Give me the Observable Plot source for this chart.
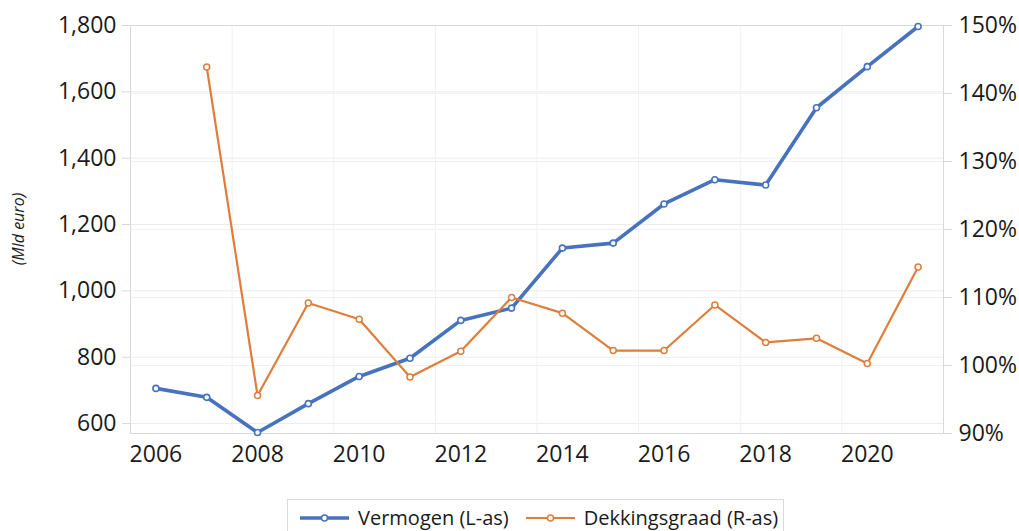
<!DOCTYPE html>
<html>
<head>
<meta charset="utf-8">
<script src="https://cdn.jsdelivr.net/npm/d3@7"></script>
<script src="https://cdn.jsdelivr.net/npm/@observablehq/plot@0.6"></script>
<style>
  html, body { margin: 0; padding: 0; background: #fff; }
  body { width: 1019px; height: 531px; position: relative; overflow: hidden; font-family: "Open Sans", sans-serif; }
  #chart { position: absolute; left: 0; top: 0; }
  #ytitle { position: absolute; left: 18px; top: 229px; transform: translate(-50%, -50%) rotate(-90deg);
            font-size: 16px; font-style: italic; color: #1a1a1a; white-space: nowrap; line-height: 1; }
  #legend { position: absolute; left: 287px; top: 499px; width: 497px; height: 36px; border: 1px solid #d9d9d9; border-bottom: none; box-sizing: border-box;
            display: flex; align-items: center; font-size: 20px; line-height: 1; color: #1a1a1a; }
  .item { display: flex; align-items: center; }
  .item svg { margin-right: 9px; }
</style>
</head>
<body>
<div id="chart"></div>
<div id="ytitle"></div>
<div id="legend"></div>
<script>
// ---- data ----
const years = [2006, 2007, 2008, 2009, 2010, 2011, 2012, 2013, 2014, 2015, 2016, 2017, 2018, 2019, 2020, 2021];
const vermogen = [706, 679, 573, 660, 742, 797, 911, 948, 1129, 1144, 1262, 1335, 1319, 1552, 1676, 1797];
const dekYears = [2007, 2008, 2009, 2010, 2011, 2012, 2013, 2014, 2015, 2016, 2017, 2018, 2019, 2020, 2021];
const dekkingsgraad = [143.9, 95.6, 109.2, 106.8, 98.3, 102.1, 110.0, 107.7, 102.2, 102.2, 108.9, 103.4, 104.0, 100.3, 114.5];
const leftTicks = [600, 800, 1000, 1200, 1400, 1600, 1800];
const rightTicks = [90, 100, 110, 120, 130, 140, 150];
const xTicks = [2006, 2008, 2010, 2012, 2014, 2016, 2018, 2020];
const gridX = [2007.5, 2009.5, 2011.5, 2013.5, 2015.5, 2017.5, 2019.5];
const seriesNames = ["Vermogen (L-as)", "Dekkingsgraad (R-as)"];
const yTitle = "(Mld euro)";

const blue = "#4672BF";
const orange = "#DE7E3A";
const textColor = "#1a1a1a";

// left axis domain and mapping of right (percent) axis onto it
const L0 = 570, L1 = 1800, R0 = 90, R1 = 150;
const toLeft = r => L0 + (r - R0) * (L1 - L0) / (R1 - R0);
const fromLeft = v => R0 + (v - L0) * (R1 - R0) / (L1 - L0);

const vData = years.map((y, i) => ({year: y, value: vermogen[i]}));
const dData = dekYears.map((y, i) => ({year: y, value: toLeft(dekkingsgraad[i])}));

const chart = Plot.plot({
  width: 1019,
  height: 490,
  marginLeft: 130,
  marginRight: 76,
  marginTop: 25,
  marginBottom: 57,
  style: {fontFamily: "'Open Sans', sans-serif", background: "#fff", overflow: "visible"},
  x: {domain: [2005.5, 2021.5]},
  y: {domain: [L0, L1]},
  marks: [
    Plot.ruleY(leftTicks, {stroke: "#ececec"}),
    Plot.ruleY(rightTicks.map(toLeft), {stroke: "#f1f1f1"}),
    Plot.ruleX(gridX, {stroke: "#f1f1f1"}),
    Plot.frame({stroke: "#d9d9d9"}),
    Plot.axisY({ticks: leftTicks, tickFormat: d3.format(","), tickSize: 8, tickPadding: 6,
                stroke: "#d9d9d9", fill: textColor, fontSize: 23, label: null}),
    Plot.axisY({anchor: "right", ticks: rightTicks.map(toLeft), tickFormat: v => Math.round(fromLeft(v)) + "%",
                tickSize: 8, tickPadding: 7, stroke: "#d9d9d9", fill: textColor, fontSize: 23, label: null}),
    Plot.axisX({ticks: xTicks, tickFormat: d => String(d), tickSize: 0, tickPadding: 12,
                fill: textColor, fontSize: 23, label: null}),
    Plot.line(vData, {x: "year", y: "value", stroke: blue, strokeWidth: 3.6}),
    Plot.dot(vData, {x: "year", y: "value", r: 3, fill: "white", stroke: blue, strokeWidth: 1.6}),
    Plot.line(dData, {x: "year", y: "value", stroke: orange, strokeWidth: 2.2}),
    Plot.dot(dData, {x: "year", y: "value", r: 3, fill: "white", stroke: orange, strokeWidth: 1.5})
  ]
});
document.getElementById("chart").appendChild(chart);
document.getElementById("ytitle").textContent = yTitle;

// legend
const legend = document.getElementById("legend");
const legendItems = [
  {name: seriesNames[0], color: blue, w: 3.6},
  {name: seriesNames[1], color: orange, w: 2.2}
];
legendItems.forEach((it, i) => {
  const div = document.createElement("div");
  div.className = "item";
  div.style.marginLeft = i === 0 ? "12px" : "17px";
  div.innerHTML = `<svg width="49" height="14"><line x1="0" x2="49" y1="7" y2="7" stroke="${it.color}" stroke-width="${it.w}"/>` +
    `<circle cx="24.5" cy="7" r="3" fill="white" stroke="${it.color}" stroke-width="1.5"/></svg><span>${it.name}</span>`;
  legend.appendChild(div);
});
</script>
</body>
</html>
